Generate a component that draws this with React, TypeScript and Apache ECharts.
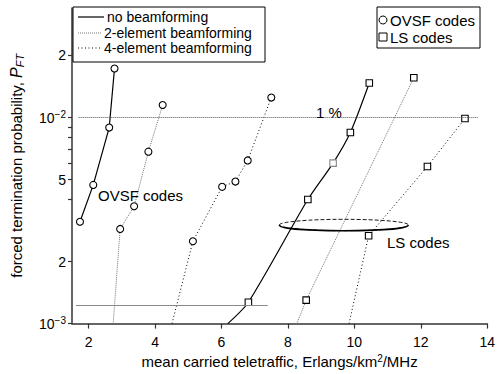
import React, { useEffect, useRef } from "react";
import * as echarts from "echarts";

const FONT = "Liberation Sans, Arial, Helvetica, sans-serif";

// x: mean carried teletraffic; y: forced termination probability
// first point of a curve marked "ext" is a curve extension without a marker
const ovsfNoneX = [1.74, 2.14, 2.62, 2.78];
const ovsfNoneY = [3.12e-3, 4.71e-3, 8.94e-3, 1.73e-2];
const ovsf2X = [2.74, 2.95, 3.37, 3.8, 4.23];
const ovsf2Y = [1.0e-3, 2.88e-3, 3.71e-3, 6.83e-3, 1.15e-2];
const ovsf4X = [4.51, 5.14, 6.02, 6.42, 6.79, 7.5];
const ovsf4Y = [1.0e-3, 2.51e-3, 4.61e-3, 4.89e-3, 6.19e-3, 1.25e-2];
const lsNoneX = [6.19, 6.81, 8.6, 9.36, 9.88, 10.45];
const lsNoneY = [1.0e-3, 1.27e-3, 4.0e-3, 6.01e-3, 8.46e-3, 1.47e-2];
const ls2X = [8.27, 8.55, 11.79];
const ls2Y = [1.0e-3, 1.3e-3, 1.56e-2];
const ls4X = [9.84, 10.43, 12.2, 13.33];
const ls4Y = [1.0e-3, 2.67e-3, 5.79e-3, 9.89e-3];

const onePercent = 0.01;
const onePercentSpan = [1.7, 13.72];
const lowRef = 1.23e-3;
const lowRefSpan = [1.62, 7.39];

const xTicks = [2, 4, 6, 8, 10, 12, 14];
const yMajor = [1e-3, 2e-3, 5e-3, 1e-2, 2e-2];
const yMinor = [4e-3, 6e-3, 7e-3, 8e-3, 9e-3];
const xMin = 1.5;
const xMax = 14;
const yMin = 1e-3;
const yMax = 0.034;

const lg = (v: number) => Math.log10(v);

type Style = { color: string; type: any; width: number };
const STYLE_NONE: Style = { color: "#000", type: "solid", width: 1.2 };
const STYLE_2: Style = { color: "#777", type: [1, 1], width: 1 };
const STYLE_4: Style = { color: "#000", type: [1, 2.5], width: 1 };

function makeSeries(
  name: string,
  xs: number[],
  ys: number[],
  ext: boolean,
  symbol: string,
  st: Style,
  smooth: number,
  grayIdx: number = -1
) {
  return {
    type: "line",
    name,
    smooth,
    showAllSymbol: true,
    symbol,
    symbolSize: symbol === "rect" ? 6.5 : 7,
    clip: true,
    lineStyle: { color: st.color, type: st.type, width: st.width },
    itemStyle: { color: "#fff", borderColor: "#000", borderWidth: 1.1 },
    emphasis: { disabled: true },
    z: 3,
    data: xs.map((x, i) => {
      const item: any = { value: [x, lg(ys[i])] };
      if (ext && i === 0) item.symbol = "none";
      if (i === grayIdx) item.itemStyle = { color: "#fff", borderColor: "#888", borderWidth: 1.1 };
      return item;
    }),
  };
}

const T = (size: number, extra: any = {}) => ({ fontSize: size, fontFamily: FONT, color: "#000", ...extra });

export default function App() {
  const ref = useRef<HTMLDivElement>(null);
  useEffect(() => {
    if (!ref.current) return;
    const chart = echarts.init(ref.current, null, { renderer: "svg" });
    const yFmt = (v: number) => {
      const e = Math.floor(v + 1e-9);
      const m = Math.round(Math.pow(10, v) / Math.pow(10, e));
      return m === 1 ? `{b|10}{s|−${-e}}` : `{b|${m}}`;
    };
    const txt = (x: number, y: number, text: string, size = 14, align = "left") => ({
      type: "text",
      x,
      y,
      style: {
        text,
        fontSize: size,
        fontFamily: FONT,
        fill: "#000",
        align,
        verticalAlign: "middle",
      },
      z: 10,
    });
    const hline = (x1: number, x2: number, y: number, st: Style) => ({
      type: "line",
      shape: { x1, y1: y, x2, y2: y },
      style: {
        stroke: st.color,
        lineWidth: st.width,
        lineDash: Array.isArray(st.type) ? st.type : null,
      },
      z: 10,
    });
    chart.setOption({
      animation: false,
      backgroundColor: "#fff",
      textStyle: { fontFamily: FONT },
      grid: { left: 69, right: 9, top: 8, bottom: 43 },
      xAxis: {
        type: "value",
        min: xMin,
        max: xMax,
        name: "{t|mean carried teletraffic, Erlangs/km}{s|2}{t|/MHz}",
        nameLocation: "middle",
        nameGap: 23,
        nameTextStyle: {
          ...T(15),
          rich: {
            t: T(15, { lineHeight: 16 }),
            s: T(10, { verticalAlign: "top", lineHeight: 16 }),
          },
        },
        axisLine: { show: true, lineStyle: { color: "#333", width: 1.5 } },
        axisTick: { show: true, length: 5, customValues: xTicks, lineStyle: { color: "#333", width: 1.2 } },
        axisLabel: {
          customValues: xTicks,
          ...T(14),
          margin: 11,
        },
        splitLine: { show: false },
      },
      yAxis: {
        type: "value",
        min: lg(yMin),
        max: lg(yMax),
        name: "{t|forced termination probability, }{i|P}{sub|FT}",
        nameLocation: "middle",
        nameRotate: 90,
        nameGap: 47,
        nameTextStyle: {
          ...T(15),
          rich: {
            t: T(15, { lineHeight: 18 }),
            i: T(16, { fontStyle: "italic", lineHeight: 18 }),
            sub: T(11, { fontStyle: "italic", verticalAlign: "bottom", lineHeight: 18, padding: [6, 0, 0, 0] }),
          },
        },
        axisLine: { show: true, lineStyle: { color: "#333", width: 1.5 } },
        axisTick: {
          show: true,
          length: 4,
          customValues: [...yMajor, ...yMinor].map(lg),
          lineStyle: { color: "#333", width: 1.2 },
        },
        axisLabel: {
          customValues: yMajor.map(lg),
          formatter: yFmt,
          margin: 6,
          rich: {
            b: T(14),
            s: T(10, { verticalAlign: "top", lineHeight: 16 }),
          },
        },
        splitLine: { show: false },
      },
      series: [
        makeSeries("OVSF no beamforming", ovsfNoneX, ovsfNoneY, false, "circle", STYLE_NONE, 0),
        makeSeries("OVSF 2-element", ovsf2X, ovsf2Y, true, "circle", STYLE_2, 0),
        makeSeries("OVSF 4-element", ovsf4X, ovsf4Y, true, "circle", STYLE_4, 0),
        makeSeries("LS no beamforming", lsNoneX, lsNoneY, true, "rect", STYLE_NONE, 0.25, 3),
        makeSeries("LS 2-element", ls2X, ls2Y, true, "rect", STYLE_2, 0),
        makeSeries("LS 4-element", ls4X, ls4Y, true, "rect", STYLE_4, 0),
        {
          type: "line",
          name: "reference lines",
          data: [],
          silent: true,
          markLine: {
            silent: true,
            symbol: "none",
            label: { show: false },
            emphasis: { disabled: true },
            data: [
              [
                { coord: [onePercentSpan[0], lg(onePercent)], lineStyle: { color: "#555", type: [1, 1], width: 1 } },
                { coord: [onePercentSpan[1], lg(onePercent)] },
              ],
              [
                { coord: [lowRefSpan[0], lg(lowRef)], lineStyle: { color: "#888", type: "solid", width: 1.2 } },
                { coord: [lowRefSpan[1], lg(lowRef)] },
              ],
            ],
          },
        },
      ],
      graphic: [
        // legend: line styles
        {
          type: "rect",
          shape: { x: 73, y: 7, width: 192, height: 55 },
          style: { fill: "#fff", stroke: "#000", lineWidth: 1 },
          z: 9,
        },
        hline(78, 104, 17, STYLE_NONE),
        hline(78, 102, 33, STYLE_2),
        hline(78, 102, 48, STYLE_4),
        txt(107, 17, "no beamforming"),
        txt(104, 33, "2-element beamforming"),
        txt(104, 48, "4-element beamforming"),
        // legend: markers
        {
          type: "rect",
          shape: { x: 377, y: 7, width: 103, height: 41 },
          style: { fill: "#fff", stroke: "#000", lineWidth: 1 },
          z: 9,
        },
        {
          type: "circle",
          shape: { cx: 383, cy: 20, r: 4 },
          style: { fill: "#fff", stroke: "#000", lineWidth: 1 },
          z: 10,
        },
        {
          type: "rect",
          shape: { x: 379, y: 33, width: 8, height: 8 },
          style: { fill: "#fff", stroke: "#000", lineWidth: 1 },
          z: 10,
        },
        txt(390, 20, "OVSF codes", 15),
        txt(390, 37, "LS codes", 15),
        // annotations
        txt(329, 112, "1 %", 15, "center"),
        txt(98, 195, "OVSF codes", 15),
        txt(387, 242, "LS codes", 15),
        {
          type: "ellipse",
          shape: { cx: 343.8, cy: 225, rx: 64.5, ry: 5.7 },
          style: { fill: "none", stroke: "#000", lineWidth: 0.9, lineDash: [4, 2] },
          z: 8,
        },
        {
          type: "bezierCurve",
          shape: { x1: 279.3, y1: 225, cpx1: 279.3, cpy1: 232.6, cpx2: 408.3, cpy2: 232.6, x2: 408.3, y2: 225 },
          style: { fill: "none", stroke: "#000", lineWidth: 1.6 },
          z: 8,
        },
      ],
    });
    return () => chart.dispose();
  }, []);
  return <div ref={ref} style={{ width: 498, height: 374, position: "absolute", left: 0, top: 0 }} />;
}
